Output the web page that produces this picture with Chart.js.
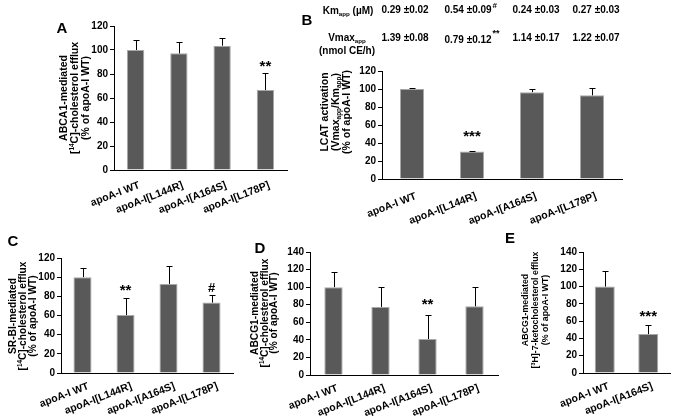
<!DOCTYPE html>
<html><head><meta charset="utf-8">
<script src="https://cdn.jsdelivr.net/npm/chart.js@4/dist/chart.umd.min.js"></script>
<style>
html,body{margin:0;padding:0;background:#fff;width:676px;height:419px;overflow:hidden}
canvas{position:absolute;left:0;top:0}
</style></head><body>
<canvas id="cA" width="676" height="419"></canvas>
<canvas id="cB" width="676" height="419"></canvas>
<canvas id="cC" width="676" height="419"></canvas>
<canvas id="cD" width="676" height="419"></canvas>
<canvas id="cE" width="676" height="419"></canvas>
<script>
// ---------- data ----------
const categories4 = ["apoA-I WT", "apoA-I[L144R]", "apoA-I[A164S]", "apoA-I[L178P]"];
const categoriesE = ["apoA-I WT", "apoA-I[A164S]"];

const valuesA = [100, 97.2, 103.6, 66.6];
const errorsA = [8.5, 9.5, 6, 14];
const sigA = ["", "", "", "**"];

const valuesB = [100, 30.5, 96.5, 93];
const errorsB = [1.5, 1, 3.5, 8];
const sigB = ["", "***", "", ""];

const valuesC = [100, 60.5, 93, 73.5];
const errorsC = [9.5, 18, 18.5, 7.5];
const sigC = ["", "**", "", "#"];

const valuesD = [100, 77.5, 41, 78.2];
const errorsD = [17, 22.5, 27, 21.5];
const sigD = ["", "", "**", ""];

const valuesE = [100, 45];
const errorsE = [17.5, 10];
const sigE = ["", "***"];

const kmValues = [0.29, 0.54, 0.24, 0.27];
const kmErrors = [0.02, 0.09, 0.03, 0.03];
const kmSig = ["", "#", "", ""];
const vmaxValues = [1.39, 0.79, 1.14, 1.22];
const vmaxErrors = [0.08, 0.12, 0.17, 0.07];
const vmaxSig = ["", "**", "", ""];

const yMax120 = 120, yMax140 = 140, yStep = 20;

// ---------- helpers ----------
const FAM = "'Liberation Sans', Arial, sans-serif";
const F = (sz) => "bold " + sz + "px " + FAM;
const W = 676, H = 419, YW = 40;

function drawRich(ctx, segs, x, y, fs, align) {
  const small = fs * 0.62;
  let total = 0;
  const ws = segs.map(s => {
    ctx.font = F(s.sub || s.sup ? small : fs);
    const w = ctx.measureText(s.t).width; total += w; return w;
  });
  let cx = align === 'left' ? x : (align === 'right' ? x - total : x - total / 2);
  ctx.textAlign = 'left';
  ctx.textBaseline = 'alphabetic';
  segs.forEach((s, i) => {
    ctx.font = F(s.sub || s.sup ? small : fs);
    let dy = 0;
    if (s.sup) dy = -fs * 0.38;
    if (s.sub) dy = fs * 0.2;
    ctx.fillText(s.t, cx, y + dy);
    cx += ws[i];
  });
  return total;
}
const T = (t) => ({t});
const SUP = (t) => ({t, sup: true});
const SUB = (t) => ({t, sub: true});

function panelPlugin(p) {
  return {
    id: 'panel' + p.letter,
    afterDatasetsDraw(chart) {
      const ctx = chart.ctx, ys = chart.scales.y;
      const meta = chart.getDatasetMeta(0);
      ctx.save();
      ctx.strokeStyle = '#000'; ctx.lineWidth = 1; ctx.fillStyle = '#000';
      meta.data.forEach((bar, i) => {
        const x = Math.round(bar.x) + 0.5;
        const yTop = Math.round(ys.getPixelForValue(p.values[i] + p.errors[i])) + 0.5;
        ctx.beginPath();
        ctx.moveTo(x, bar.y); ctx.lineTo(x, yTop);
        ctx.moveTo(x - 3, yTop); ctx.lineTo(x + 3, yTop);
        ctx.stroke();
        if (p.sig[i]) {
          ctx.font = F(p.sig[i] === '#' ? 13 : 15);
          ctx.textAlign = 'center'; ctx.textBaseline = 'alphabetic';
          ctx.fillText(p.sig[i], bar.x, yTop - p.sigOff);
        }
      });
      ctx.restore();
    },
    afterDraw(chart) {
      const ctx = chart.ctx, xs = chart.scales.x, area = chart.chartArea;
      ctx.save();
      ctx.fillStyle = '#000';
      // category labels
      ctx.font = F(p.labFs);
      p.labels.forEach((lab, i) => {
        const x = xs.getPixelForValue(i) + p.labDx, y = area.bottom + p.labDy;
        ctx.save(); ctx.translate(x, y); ctx.rotate(-p.labRot * Math.PI / 180);
        ctx.textAlign = 'right'; ctx.textBaseline = 'top';
        ctx.fillText(lab, 0, 0); ctx.restore();
      });
      // y title
      ctx.save(); ctx.translate(p.titleX, p.titleY); ctx.rotate(-Math.PI / 2);
      const n = p.title.length;
      p.title.forEach((line, i) => {
        drawRich(ctx, line, 0, (i - (n - 1) / 2) * p.titleLh + p.titleFs * 0.36, p.titleFs, 'center');
      });
      ctx.restore();
      // panel letter
      ctx.font = F(15); ctx.textAlign = 'center'; ctx.textBaseline = 'middle';
      ctx.fillText(p.letter, p.letterX, p.letterY);
      if (p.extra) p.extra(chart);
      ctx.restore();
    }
  };
}

function makePanel(p) {
  return new Chart(document.getElementById(p.id), {
    type: 'bar',
    data: { labels: p.labels, datasets: [{
      data: p.values, backgroundColor: '#595959', borderColor: '#a8a8a8', borderWidth: 1,
      barPercentage: p.barPct, categoryPercentage: 1 }] },
    options: {
      responsive: false, animation: false, devicePixelRatio: 1, events: [],
      layout: { padding: { left: p.area.l - YW, top: p.area.t, right: W - p.area.r, bottom: H - p.area.b } },
      plugins: { legend: { display: false }, tooltip: { enabled: false } },
      scales: {
        x: { grid: { display: false }, border: { display: true, color: '#000', width: 1 },
             ticks: { display: false }, afterFit(s) { s.height = 0; } },
        y: { min: 0, max: p.max,
             ticks: { stepSize: yStep, color: '#000', padding: 2, font: { size: 10, weight: 'bold', family: FAM } },
             grid: { display: true, drawOnChartArea: false, drawTicks: true, tickLength: 4, color: '#000' },
             border: { display: true, color: '#000', width: 1 },
             afterFit(s) { s.width = YW; } }
      }
    },
    plugins: [panelPlugin(p)]
  });
}

const cholLine = [T("["), SUP("14"), T("C]-cholesterol efflux")];
const pctLine = [T("(% of apoA-I WT)")];

makePanel({ id: 'cA', letter: 'A', letterX: 62, letterY: 29, labels: categories4,
  values: valuesA, errors: errorsA, sig: sigA, max: yMax120, barPct: 0.4,
  area: { l: 114, t: 26, r: 287, b: 170 }, sigOff: 3,
  labFs: 10.5, labDx: 2, labDy: 10, labRot: 21,
  title: [[T("ABCA1-mediated")], cholLine, pctLine], titleX: 74, titleY: 98, titleFs: 10.5, titleLh: 11 });

makePanel({ id: 'cB', letter: 'B', letterX: 307, letterY: 21, labels: categories4,
  values: valuesB, errors: errorsB, sig: sigB, max: yMax120, barPct: 0.4,
  area: { l: 382, t: 71, r: 622, b: 179 }, sigOff: 11,
  labFs: 10.5, labDx: 2, labDy: 12, labRot: 21,
  title: [[T("LCAT activation")], [T("(Vmax"), SUB("app"), T("/Km"), SUB("app"), T(")")], pctLine],
  titleX: 335, titleY: 112, titleFs: 10.5, titleLh: 10.8,
  extra(chart) {
    const ctx = chart.ctx, xs = chart.scales.x;
    const colOff = [-7, -4, 4, 4];
    ctx.fillStyle = '#000';
    drawRich(ctx, [T("Km"), SUB("app"), T(" (\u00b5M)")], 348, 14, 10, 'center');
    drawRich(ctx, [T("Vmax"), SUB("app")], 347, 41, 10, 'center');
    drawRich(ctx, [T("(nmol CE/h)")], 347, 54, 10, 'center');
    kmValues.forEach((v, i) => {
      const x = xs.getPixelForValue(i) + colOff[i];
      const txt = v.toFixed(2) + " \u00b1" + kmErrors[i].toFixed(2);
      const w = drawRich(ctx, [T(txt)], x, 13, 10, 'center');
      if (kmSig[i]) { ctx.font = F(8); ctx.textAlign = 'left'; ctx.fillText(kmSig[i], x + w / 2 + 1, 8); }
    });
    vmaxValues.forEach((v, i) => {
      const x = xs.getPixelForValue(i) + colOff[i];
      const txt = v.toFixed(2) + " \u00b1" + vmaxErrors[i].toFixed(2);
      const y = vmaxSig[i] ? 43 : 41;
      const w = drawRich(ctx, [T(txt)], x, y, 10, 'center');
      if (vmaxSig[i]) { ctx.font = F(9); ctx.textAlign = 'left'; ctx.fillText(vmaxSig[i], x + w / 2 + 1, 36); }
    });
  } });

makePanel({ id: 'cC', letter: 'C', letterX: 13, letterY: 242, labels: categories4,
  values: valuesC, errors: errorsC, sig: sigC, max: yMax120, barPct: 0.42,
  area: { l: 61, t: 258, r: 233, b: 373 }, sigOff: 4,
  labFs: 10.5, labDx: 4, labDy: 8, labRot: 21,
  title: [[T("SR-BI-mediated")], cholLine, pctLine], titleX: 22, titleY: 316, titleFs: 10.2, titleLh: 10 });

makePanel({ id: 'cD', letter: 'D', letterX: 260, letterY: 249, labels: categories4,
  values: valuesD, errors: errorsD, sig: sigD, max: yMax140, barPct: 0.39,
  area: { l: 310, t: 252, r: 498, b: 375 }, sigOff: 7,
  labFs: 10.5, labDx: 2, labDy: 8, labRot: 21,
  title: [[T("ABCG1-mediated")], cholLine, pctLine], titleX: 264, titleY: 313, titleFs: 10.2, titleLh: 9.8 });

makePanel({ id: 'cE', letter: 'E', letterX: 510, letterY: 239, labels: categoriesE,
  values: valuesE, errors: errorsE, sig: sigE, max: yMax140, barPct: 0.46,
  area: { l: 583, t: 252, r: 670, b: 373 }, sigOff: 5,
  labFs: 10.5, labDx: 2, labDy: 8, labRot: 21,
  title: [[T("ABCG1-mediated")], [T("["), SUP("3"), T("H]-7-ketocholesterol efflux")], pctLine],
  titleX: 535, titleY: 310, titleFs: 8.8, titleLh: 10 });
</script>
</body></html>
